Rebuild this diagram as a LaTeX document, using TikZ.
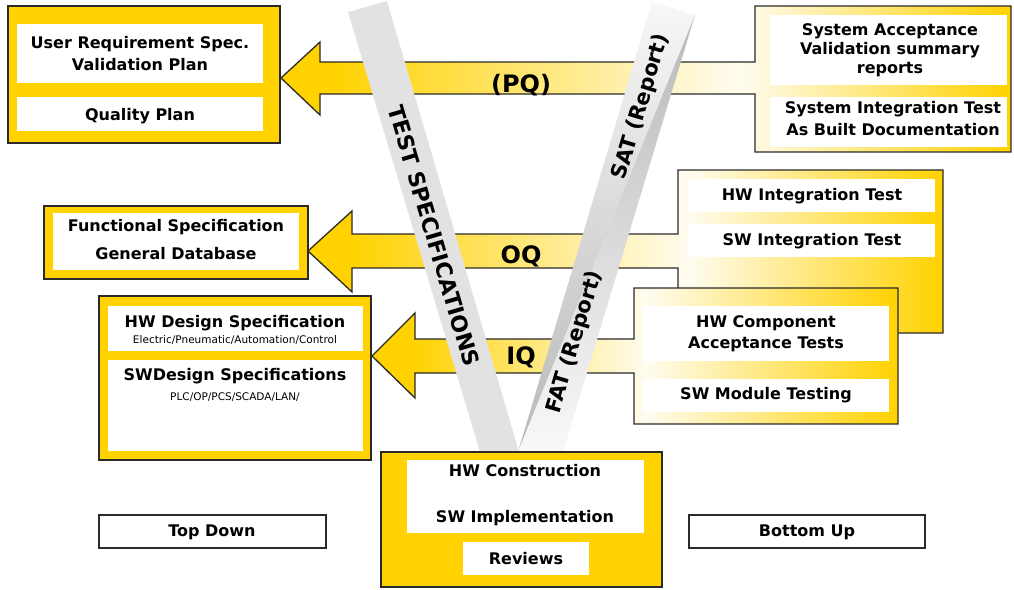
\documentclass[tikz,border=0pt]{standalone}
\usepackage{fontspec}
\setmainfont{DejaVu Sans}
\definecolor{ylw}{HTML}{FFD200}
\definecolor{cream}{HTML}{FFFCF0}
\definecolor{edge}{HTML}{2A2A2A}
\definecolor{bandgray}{HTML}{E2E2E2}
\pgfdeclarehorizontalshading{pqshade}{100bp}{color(0bp)=(ylw); color(28.4bp)=(ylw); color(56.4bp)=(cream); color(75bp)=(ylw); color(100bp)=(ylw)}
\pgfdeclarehorizontalshading{oqshade}{100bp}{color(0bp)=(ylw); color(28.5bp)=(ylw); color(55bp)=(cream); color(75bp)=(ylw); color(100bp)=(ylw)}
\pgfdeclarehorizontalshading{iqshade}{100bp}{color(0bp)=(ylw); color(29bp)=(ylw); color(51bp)=(cream); color(75bp)=(ylw); color(100bp)=(ylw)}
\tikzset{
  ybox/.style={fill=ylw, draw=edge, line width=1.3pt},
  plainbox/.style={fill=white, draw=edge, line width=1.3pt},
  shp/.style={draw=edge, line width=1.3pt, line join=miter},
  lbl/.style={font=\fontsize{16}{22}\selectfont\bfseries, align=center, inner sep=0pt},
  sml/.style={font=\fontsize{10.5}{12}\selectfont, inner sep=0pt},
  big/.style={font=\fontsize{24}{28}\selectfont\bfseries, inner sep=0pt},
  bandtxt/.style={font=\fontsize{21}{24}\selectfont\bfseries, inner sep=0pt},
}
\begin{document}
\begin{tikzpicture}[x=1pt,y=-1pt]
\useasboundingbox (0,0) rectangle (1014,589);

% ---------- PQ arrow + top-right box ----------
\shadedraw[shp, shading=pqshade] (281,78) -- (320,42) -- (320,62) -- (755,62) -- (755,6) -- (1011,6)
  -- (1011,152) -- (755,152) -- (755,94) -- (320,94) -- (320,115) -- cycle;
\fill[white] (770,15) rectangle (1007,85);
\fill[white] (770,97) rectangle (1007,147);
\node[lbl, font=\fontsize{16}{19}\selectfont\bfseries] (sysacc) at (890,50) {System Acceptance\\Validation summary\\reports};
\node[lbl] (sysint) at (893,119) {System Integration Test\\As Built Documentation};

% ---------- OQ arrow + HW/SW integration box ----------
\shadedraw[shp, shading=oqshade] (308,251) -- (352,211) -- (352,234) -- (678,234) -- (678,170) -- (943,170)
  -- (943,333) -- (678,333) -- (678,268) -- (352,268) -- (352,292) -- cycle;
\fill[white] (689,179) rectangle (935,212);
\fill[white] (689,224) rectangle (935,257);
\node[lbl] (hwint) at (812,196) {HW Integration Test};
\node[lbl] (swint) at (812,241) {SW Integration Test};

% ---------- IQ arrow + component box ----------
\shadedraw[shp, shading=iqshade] (372,356) -- (415,313) -- (415,339) -- (634,339) -- (634,288) -- (898,288)
  -- (898,424) -- (634,424) -- (634,373) -- (415,373) -- (415,398) -- cycle;
\fill[white] (643,306) rectangle (889,361);
\fill[white] (643,379) rectangle (889,412);
\node[lbl, font=\fontsize{16}{21}\selectfont\bfseries] (hwcomp) at (766,334) {HW Component\\Acceptance Tests};
\node[lbl] (swmod) at (766,395) {SW Module Testing};

% ---------- left boxes ----------
\draw[ybox] (8,6) rectangle (280,143);
\fill[white] (17,24) rectangle (263,83);
\fill[white] (17,97) rectangle (263,131);
\node[lbl] (urs) at (140,54) {User Requirement Spec.\\Validation Plan};
\node[lbl] (qp) at (140,116) {Quality Plan};

\draw[ybox] (44,206) rectangle (308,279);
\fill[white] (53,213) rectangle (299,270);
\node[lbl, font=\fontsize{16}{28}\selectfont\bfseries] (fs) at (176,240) {Functional Specification\\General Database};

\draw[ybox] (99,296) rectangle (371,460);
\fill[white] (108,306) rectangle (363,351);
\fill[white] (108,360) rectangle (363,451);
\node[lbl] (hwd) at (235,323) {HW Design Specification};
\node[sml] (hwdsub) at (235,340) {Electric/Pneumatic/Automation/Control};
\node[lbl] (swd) at (235,376) {SWDesign Specifications};
\node[sml] (swdsub) at (235,397) {PLC/OP/PCS/SCADA/LAN/};

% ---------- arrow labels ----------
\node[big] (pq) at (521,85) {(PQ)};
\node[big] (oq) at (521,256) {OQ};
\node[big] (iq) at (521,357) {IQ};

% ---------- V bands ----------
\fill[bandgray] (348,12) -- (387,1) -- (519,452) -- (480,452) -- cycle;
\shade[top color=gray!6, bottom color=gray!55] (652,2) -- (695,15) -- (518,452) -- cycle;
\shade[top color=gray!55, bottom color=gray!5] (695,15) -- (563,452) -- (518,452) -- cycle;
\node[bandtxt, font=\fontsize{22}{24}\selectfont\bfseries, rotate=-73.5] (testspec) at (434,236) {TEST SPECIFICATIONS};
\node[bandtxt, rotate=73.3] (sat) at (641,107) {SAT (Report)};
\node[bandtxt, rotate=73.3] (fat) at (575,342) {FAT (Report)};

% ---------- bottom box ----------
\draw[ybox] (381,452) rectangle (662,587);
\fill[white] (407,460) rectangle (644,533);
\fill[white] (463,542) rectangle (589,575);
\node[lbl] (hwc) at (525,471) {HW Construction};
\node[lbl] (swi) at (525,518) {SW Implementation};
\node[lbl] (rev) at (526,559) {Reviews};

% ---------- direction boxes ----------
\draw[plainbox] (99,515) rectangle (326,548);
\node[lbl] (td) at (212,532) {Top Down};
\draw[plainbox] (689,515) rectangle (925,548);
\node[lbl] (bu) at (807,532) {Bottom Up};
\end{tikzpicture}
\end{document}
